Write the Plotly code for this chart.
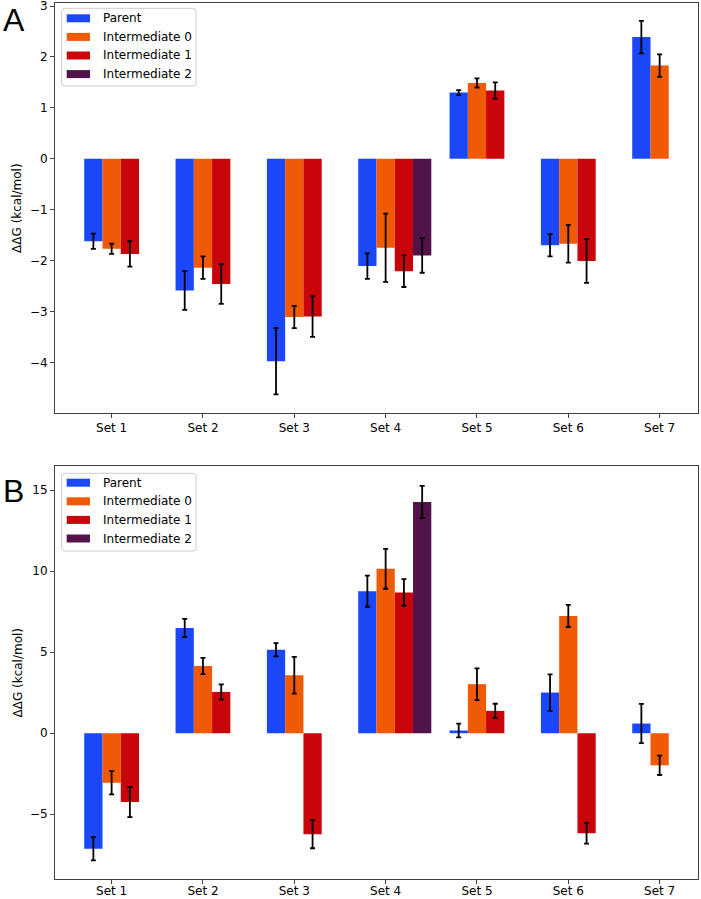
import plotly.graph_objects as go

W, H = 701, 899

sets = ["Set 1", "Set 2", "Set 3", "Set 4", "Set 5", "Set 6", "Set 7"]
series = ["Parent", "Intermediate 0", "Intermediate 1", "Intermediate 2"]
colors = ["#1a47f8", "#f05a05", "#c8050a", "#52124a"]

# Panel A values (kcal/mol) and errors
a_parent = [-1.62, -2.59, -3.98, -2.11, 1.30, -1.70, 2.39]
a_parent_err = [0.15, 0.38, 0.65, 0.25, 0.05, 0.22, 0.32]
a_int0 = [-1.77, -2.14, -3.11, -1.75, 1.49, -1.67, 1.83]
a_int0_err = [0.10, 0.22, 0.22, 0.67, 0.09, 0.37, 0.22]
a_int1 = [-1.87, -2.46, -3.10, -2.21, 1.34, -2.01, None]
a_int1_err = [0.25, 0.39, 0.40, 0.31, 0.16, 0.43, None]
a_int2 = [None, None, None, -1.90, None, None, None]
a_int2_err = [None, None, None, 0.34, None, None, None]

# Panel B values (kcal/mol) and errors
b_parent = [-7.13, 6.50, 5.15, 8.77, 0.17, 2.51, 0.60]
b_parent_err = [0.72, 0.56, 0.41, 0.96, 0.42, 1.13, 1.21]
b_int0 = [-3.06, 4.15, 3.58, 10.15, 3.03, 7.24, -1.98]
b_int0_err = [0.72, 0.50, 1.14, 1.23, 0.98, 0.68, 0.60]
b_int1 = [-4.25, 2.55, -6.23, 8.69, 1.38, -6.17, None]
b_int1_err = [0.93, 0.47, 0.87, 0.82, 0.44, 0.64, None]
b_int2 = [None, None, None, 14.28, None, None, None]
b_int2_err = [None, None, None, 0.99, None, None, None]

panel_a = [(a_parent, a_parent_err), (a_int0, a_int0_err), (a_int1, a_int1_err), (a_int2, a_int2_err)]
panel_b = [(b_parent, b_parent_err), (b_int0, b_int0_err), (b_int1, b_int1_err), (b_int2, b_int2_err)]

offsets = [-0.3, -0.1, 0.1, 0.3]
bar_w = 0.2
xs = list(range(len(sets)))


def px_x(p):
    return p / W


def px_y(p):
    return 1 - p / H


fig = go.Figure()

for panel, (xa, ya) in ((panel_a, ("x", "y")), (panel_b, ("x2", "y2"))):
    for i, (vals, errs) in enumerate(panel):
        fig.add_trace(go.Bar(
            x=xs, y=vals, name=series[i],
            offset=offsets[i], width=bar_w,
            marker=dict(color=colors[i], line=dict(width=0)),
            error_y=dict(type="data", array=errs, visible=True,
                         color="black", thickness=1.8, width=2.5),
            xaxis=xa, yaxis=ya, showlegend=False,
        ))

axis_common = dict(
    showline=True, mirror=True, linecolor="#404040", linewidth=1,
    ticks="outside", ticklen=4, tickwidth=1, tickcolor="#404040",
    showgrid=False, zeroline=False, ticklabeloverflow="allow", automargin=False,
    tickfont=dict(family="DejaVu Sans", size=12, color="black"),
)

dom_x = [px_x(55), px_x(698)]
dom_a = [px_y(412.7), px_y(3)]
dom_b = [px_y(879), px_y(466)]

fig.update_layout(
    width=W, height=H, autosize=False,
    margin=dict(l=0, r=0, t=0, b=0, autoexpand=False),
    plot_bgcolor="white", paper_bgcolor="white",
    barmode="overlay", showlegend=False,
    font=dict(family="DejaVu Sans", size=12, color="black"),
    xaxis=dict(domain=dom_x, anchor="y", range=[-0.62, 6.42],
               tickvals=xs, ticktext=sets, **axis_common),
    yaxis=dict(domain=dom_a, anchor="x", range=[-4.99, 3.06],
               tickvals=[-4, -3, -2, -1, 0, 1, 2, 3], **axis_common),
    xaxis2=dict(domain=dom_x, anchor="y2", range=[-0.62, 6.42],
                tickvals=xs, ticktext=sets, ticklabelstandoff=-3, **axis_common),
    yaxis2=dict(domain=dom_b, anchor="x2", range=[-9.0, 16.5], dtick=5, **axis_common),
)

shapes = []
annotations = []

# y axis titles and panel letters
for cy, letter, ly in ((207.9, "A", 20), (672.5, "B", 491)):
    annotations.append(dict(
        x=px_x(17), y=px_y(cy), xref="paper", yref="paper",
        text="ΔΔG (kcal/mol)", textangle=-90, showarrow=False,
        font=dict(family="DejaVu Sans", size=12, color="black"),
        xanchor="center", yanchor="middle",
    ))
    annotations.append(dict(
        x=px_x(1), y=px_y(ly), xref="paper", yref="paper",
        text=letter, showarrow=False,
        font=dict(family="Liberation Sans", size=32, color="black"),
        xanchor="left", yanchor="middle",
    ))

# manual legends (matplotlib style)
for top, first in ((8.3, 18.3), (473.3, 482.7)):
    x0, x1, y0, y1 = 61.7, 196, top, top + 77.7
    r = 3
    path = (f"M {px_x(x0 + r)} {px_y(y0)} L {px_x(x1 - r)} {px_y(y0)} "
            f"Q {px_x(x1)} {px_y(y0)} {px_x(x1)} {px_y(y0 + r)} "
            f"L {px_x(x1)} {px_y(y1 - r)} Q {px_x(x1)} {px_y(y1)} {px_x(x1 - r)} {px_y(y1)} "
            f"L {px_x(x0 + r)} {px_y(y1)} Q {px_x(x0)} {px_y(y1)} {px_x(x0)} {px_y(y1 - r)} "
            f"L {px_x(x0)} {px_y(y0 + r)} Q {px_x(x0)} {px_y(y0)} {px_x(x0 + r)} {px_y(y0)} Z")
    shapes.append(dict(type="path", path=path, xref="paper", yref="paper",
                       line=dict(color="#cccccc", width=1), fillcolor="rgba(255,255,255,0.8)",
                       layer="above"))
    for i, name in enumerate(series):
        cy = first + i * 18.6
        shapes.append(dict(type="rect", xref="paper", yref="paper",
                           x0=px_x(66.7), x1=px_x(90), y0=px_y(cy - 4), y1=px_y(cy + 4),
                           fillcolor=colors[i], line=dict(width=0), layer="above"))
        annotations.append(dict(
            x=px_x(101), y=px_y(cy), xref="paper", yref="paper",
            text=name, showarrow=False, xanchor="left", yanchor="middle",
            font=dict(family="DejaVu Sans", size=12, color="black"),
        ))

fig.update_layout(shapes=shapes, annotations=annotations)

fig.write_html("out.html")
